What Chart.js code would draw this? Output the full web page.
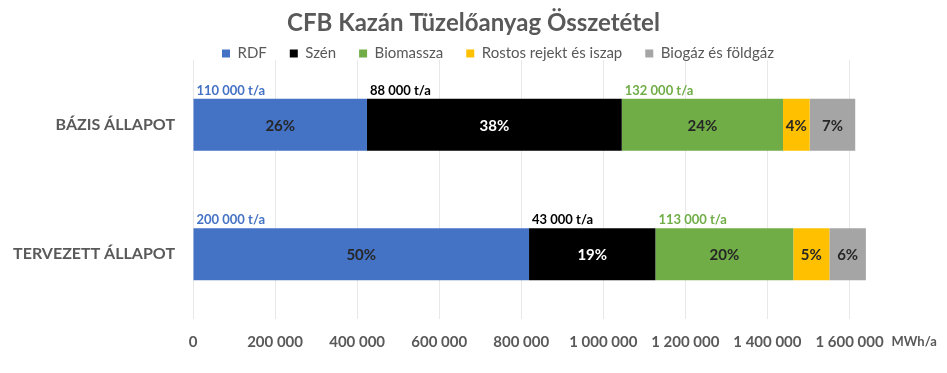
<!DOCTYPE html>
<html>
<head>
<meta charset="utf-8">
<script src="https://cdn.jsdelivr.net/npm/chart.js@4.4.1/dist/chart.umd.min.js"></script>
<style>
  html, body { margin: 0; padding: 0; background: #fff; }
  #wrap { width: 947px; height: 373px; position: relative; }
</style>
</head>
<body>
<div id="wrap"><canvas id="fuelChart"></canvas></div>
<script>
const chartTitle = "CFB Kazán Tüzelőanyag Összetétel";
const categories = ["BÁZIS ÁLLAPOT", "TERVEZETT ÁLLAPOT"];

// MWh/a per fuel type
const rdf = [424000, 819000];
const szen = [621000, 308000];
const biomassza = [393000, 336000];
const rostos = [65000, 88000];
const biogaz = [111000, 89000];

// labels shown inside the bars
const rdfPct = ["26%", "50%"];
const szenPct = ["38%", "19%"];
const biomasszaPct = ["24%", "20%"];
const rostosPct = ["4%", "5%"];
const biogazPct = ["7%", "6%"];

// tonnage labels above the bars
const rdfTons = ["110 000 t/a", "200 000 t/a"];
const szenTons = ["88 000 t/a", "43 000 t/a"];
const biomasszaTons = ["132 000 t/a", "113 000 t/a"];

const tickValues = [0, 200000, 400000, 600000, 800000, 1000000, 1200000, 1400000, 1600000];
const axisMax = 1650000;
const axisUnit = "MWh/a";

const GREY = "#595959";
const FONT = "Lato";

function fmt(v) {
  return String(v).replace(/\B(?=(\d{3})+(?!\d))/g, " ");
}

const titlePlugin = {
  id: "titleText",
  afterDraw(chart) {
    const ctx = chart.ctx;
    ctx.save();
    ctx.font = "bold 24px " + FONT;
    ctx.fillStyle = GREY;
    ctx.textAlign = "center";
    ctx.textBaseline = "middle";
    ctx.fillText(chartTitle, chart.width / 2, 23);
    ctx.restore();
  }
};

// legend: keep wide item spacing but less vertical room, nudge it like the original
const legendTweak = {
  id: "legendTweak",
  beforeLayout(chart) {
    const lg = chart.legend;
    if (lg && !lg._tweaked) {
      const fit = lg.fit;
      lg.fit = function () { fit.call(this); this.height = 38; };
      lg._tweaked = true;
    }
  },
  afterLayout(chart) {
    const lg = chart.legend;
    lg.left += 63;
    lg.right += 63;
    lg.top += 1;
    lg.bottom += 1;
  }
};

const barLabels = {
  id: "barLabels",
  afterDatasetsDraw(chart) {
    const ctx = chart.ctx;
    ctx.save();
    chart.data.datasets.forEach((ds, i) => {
      const meta = chart.getDatasetMeta(i);
      meta.data.forEach((bar, j) => {
        ctx.font = "bold 15px " + FONT;
        ctx.fillStyle = ds.pctColor;
        ctx.textAlign = "center";
        ctx.textBaseline = "middle";
        ctx.fillText(ds.pct[j], (bar.x + bar.base) / 2, bar.y + 1);
        if (ds.tons) {
          ctx.font = "bold 13px " + FONT;
          ctx.fillStyle = ds.backgroundColor;
          ctx.textAlign = "left";
          ctx.textBaseline = "alphabetic";
          ctx.fillText(ds.tons[j], bar.base + 3, bar.y - bar.height / 2 - 4);
        }
      });
    });
    ctx.restore();
  }
};

const unitLabel = {
  id: "unitLabel",
  afterDraw(chart) {
    const x = chart.scales.x;
    const ctx = chart.ctx;
    ctx.save();
    ctx.font = "bold 13px " + FONT;
    ctx.fillStyle = GREY;
    ctx.textAlign = "left";
    ctx.textBaseline = "middle";
    const last = tickValues[tickValues.length - 1];
    ctx.fillText(axisUnit, x.getPixelForValue(last) + 42, x.top + 23);
    ctx.restore();
  }
};

new Chart(document.getElementById("fuelChart"), {
  type: "bar",
  data: {
    labels: categories,
    datasets: [
      { label: "RDF", data: rdf, backgroundColor: "#4472C4", pct: rdfPct, pctColor: "#262626", tons: rdfTons },
      { label: "Szén", data: szen, backgroundColor: "#000000", pct: szenPct, pctColor: "#FFFFFF", tons: szenTons },
      { label: "Biomassza", data: biomassza, backgroundColor: "#70AD47", pct: biomasszaPct, pctColor: "#262626", tons: biomasszaTons },
      { label: "Rostos rejekt és iszap", data: rostos, backgroundColor: "#FFC000", pct: rostosPct, pctColor: "#262626" },
      { label: "Biogáz és földgáz", data: biogaz, backgroundColor: "#A5A5A5", pct: biogazPct, pctColor: "#262626" },
    ],
  },
  options: {
    indexAxis: "y",
    responsive: true,
    maintainAspectRatio: false,
    animation: false,
    barPercentage: 0.4,
    categoryPercentage: 1,
    layout: { padding: { left: 0, right: 77, top: 22, bottom: 8 } },
    scales: {
      x: {
        stacked: true,
        min: 0,
        max: axisMax,
        grid: { color: "#E8E8E8", drawTicks: false },
        border: { display: false },
        afterBuildTicks(scale) {
          scale.ticks = tickValues.map((v) => ({ value: v }));
        },
        ticks: {
          padding: 14,
          color: GREY,
          font: { family: FONT, size: 15, weight: "bold" },
          callback: (v) => fmt(v),
        },
      },
      y: {
        stacked: true,
        grid: { display: false },
        border: { display: false },
        afterFit(scale) { scale.width = 193; },
        ticks: {
          padding: 10,
          color: GREY,
          font: { family: FONT, size: 16, weight: "bold" },
        },
      },
    },
    plugins: {
      legend: {
        position: "top",
        labels: {
          boxWidth: 8,
          boxHeight: 8,
          padding: 23,
          color: GREY,
          font: { family: FONT, size: 15 },
        },
      },
      tooltip: { enabled: false },
    },
  },
  plugins: [legendTweak, titlePlugin, barLabels, unitLabel],
});
</script>
</body>
</html>
